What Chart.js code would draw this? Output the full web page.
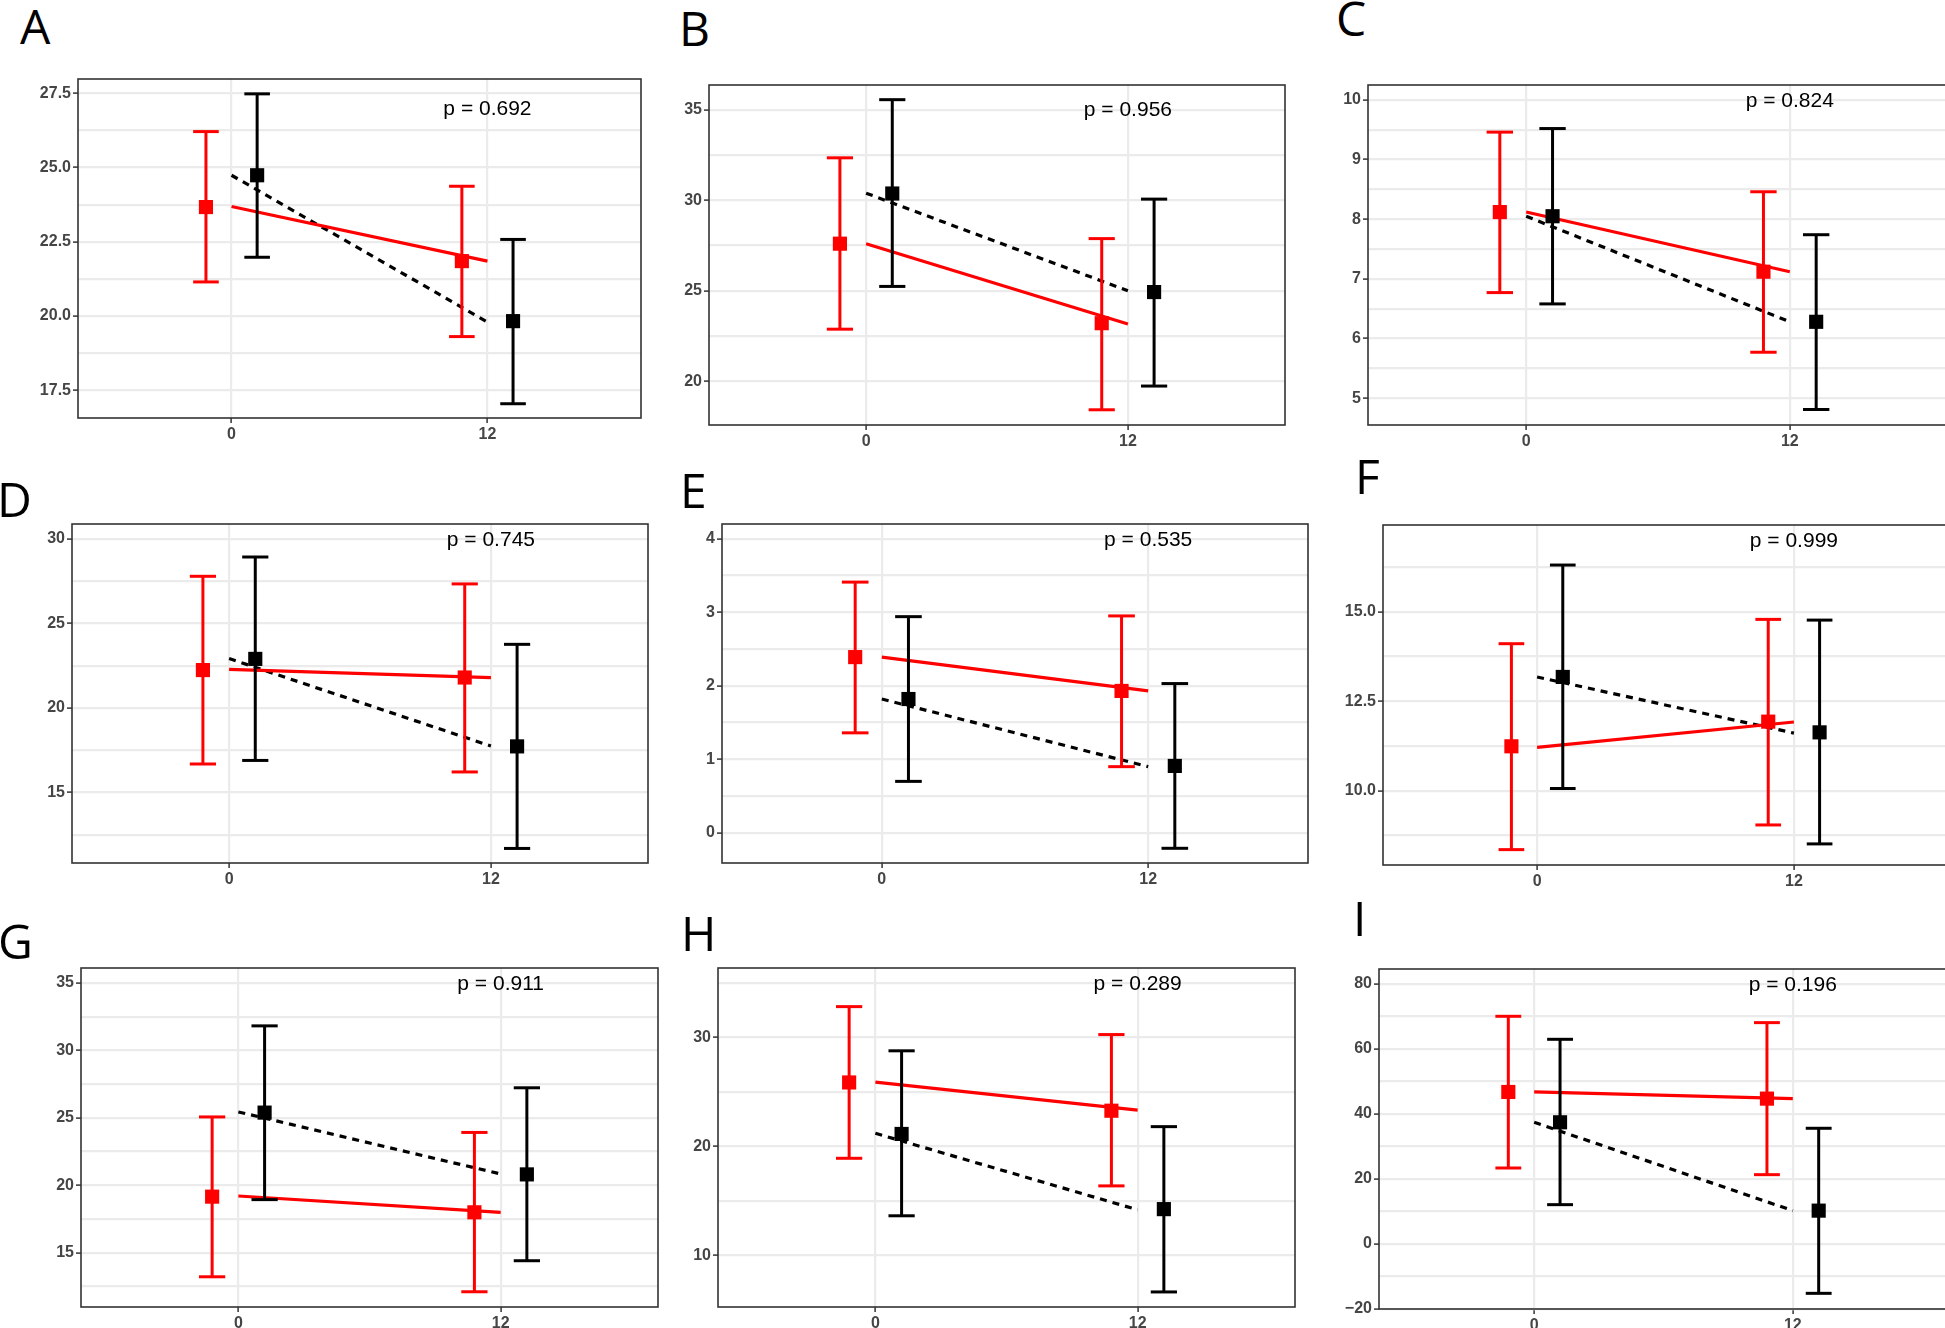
<!DOCTYPE html>
<html>
<head>
<meta charset="utf-8">
<script src="https://cdn.jsdelivr.net/npm/chart.js@4.4.0/dist/chart.umd.min.js"></script>
<style>
  html, body { margin: 0; padding: 0; background: #fff; overflow: hidden; }
  body { width: 1945px; height: 1328px; position: relative; }
  .panel { position: absolute; }
  .tag { position: absolute; font-family: 'Open Sans', 'Noto Sans', sans-serif; font-size: 48px; line-height: 48px; color: #000; }
</style>
</head>
<body>
<script>
// ---- data ----
const panelNames = ['A', 'B', 'C', 'D', 'E', 'F', 'G', 'H', 'I'];
const pValues = ['0.692', '0.956', '0.824', '0.745', '0.535', '0.999', '0.911', '0.289', '0.196'];
const pLabelY = [26.97, 34.95, 9.98, 29.92, 3.98, 16.97, 34.9, 34.85, 79.5];

const timePoints = [0, 12];
const xTickLabels = ['0', '12'];

const yTickLabels = [
    ['17.5', '20.0', '22.5', '25.0', '27.5'],
    ['20', '25', '30', '35'],
    ['5', '6', '7', '8', '9', '10'],
    ['15', '20', '25', '30'],
    ['0', '1', '2', '3', '4'],
    ['10.0', '12.5', '15.0'],
    ['15', '20', '25', '30', '35'],
    ['10', '20', '30'],
    ['\u221220', '0', '20', '40', '60', '80']
];
const yMin = [16.57, 17.59, 4.55, 10.84, -0.41, 7.92, 10.98, 5.27, -20];
const yMax = [27.98, 36.36, 10.25, 30.87, 4.2, 17.43, 36.11, 36.34, 84.6];

// red group: mean, lower, upper at month 0 and 12
const redMean = [[23.67, 21.85], [27.6, 23.21], [8.12, 7.12], [22.24, 21.8], [2.39, 1.93], [11.24, 11.93], [19.16, 18.0], [25.85, 23.26], [46.77, 44.72]];
const redLow  = [[21.15, 19.31], [22.88, 18.43], [6.77, 5.77], [16.69, 16.22], [1.36, 0.90], [8.35, 9.04], [13.22, 12.11], [18.9, 16.37], [23.38, 21.33]];
const redHigh = [[26.21, 24.37], [32.34, 27.88], [9.46, 8.46], [27.78, 27.33], [3.41, 2.95], [14.11, 14.79], [25.07, 23.92], [32.8, 30.24], [70.05, 68.1]];
// black group
const blackMean = [[24.74, 19.83], [30.37, 24.93], [8.05, 6.28], [22.9, 17.73], [1.82, 0.91], [13.18, 11.63], [25.39, 20.81], [21.13, 14.24], [37.44, 10.26]];
const blackLow  = [[21.98, 17.05], [25.24, 19.74], [6.58, 4.81], [16.9, 11.7], [0.70, -0.21], [10.06, 8.51], [18.94, 14.41], [13.63, 6.65], [12.1, -15.18]];
const blackHigh = [[27.48, 22.58], [35.55, 30.06], [9.52, 7.74], [28.92, 23.76], [2.94, 2.03], [16.31, 14.77], [31.82, 27.23], [28.75, 21.8], [62.97, 35.6]];
// fitted lines (value at month 0 and 12)
const redFit   = [[23.69, 21.85], [27.6, 23.17], [8.12, 7.12], [22.28, 21.79], [2.39, 1.93], [11.21, 11.92], [19.21, 18.0], [25.88, 23.32], [46.77, 44.72]];
const blackFit = [[24.74, 19.8], [30.39, 25.0], [8.05, 6.28], [22.92, 17.75], [1.82, 0.90], [13.18, 11.61], [25.44, 20.84], [21.19, 14.18], [37.44, 10.26]];

// ---- layout ----
const boxes = [
    [78, 79, 641, 418], [709, 85, 1285, 425], [1368, 85, 1948, 425],
    [72, 524, 648, 863], [722, 524, 1308, 863], [1383, 525, 1948, 865],
    [81, 968, 658, 1307], [718, 968, 1295, 1307], [1379, 969, 1948, 1309]
];
const tagPos = [[20, 2], [679, 4], [1336, -6], [-3, 475], [680, 466], [1355, 452], [-2, 917], [681, 909], [1353, 894]];

const Y_AXIS_W = 70, X_AXIS_H = 30, PAD = 10;
const X_MIN = -7.2, X_MAX = 19.2, DODGE = 1.2, CAP = 0.6;
const RED = '#ff0000', BLACK = '#000000', GRID = '#ebebeb';
const tickFont = { family: 'Liberation Sans', size: 16, weight: 'bold' };

const toNum = s => parseFloat(s.replace('\u2212', '-'));

const framePlugin = {
    id: 'frame',
    afterDraw(chart) {
        const { ctx, chartArea: a } = chart;
        ctx.save();
        ctx.strokeStyle = '#333333';
        ctx.lineWidth = 1.6;
        ctx.strokeRect(a.left, a.top, a.right - a.left, a.bottom - a.top);
        ctx.restore();
    }
};

const pLabelPlugin = {
    id: 'pLabel',
    afterDatasetsDraw(chart, args, opts) {
        const ctx = chart.ctx;
        ctx.save();
        ctx.font = '21px "Liberation Sans"';
        ctx.fillStyle = '#000';
        ctx.textAlign = 'center';
        ctx.textBaseline = 'middle';
        ctx.fillText(opts.text, chart.scales.x.getPixelForValue(opts.x), chart.scales.y.getPixelForValue(opts.y));
        ctx.restore();
    }
};

function seg(data, color, width, dash, order) {
    return {
        type: 'scatter', data: data, showLine: true,
        borderColor: color, backgroundColor: color, borderWidth: width,
        borderDash: dash || [], borderCapStyle: 'butt',
        pointRadius: 0, pointHoverRadius: 0, order: order
    };
}

function groupDatasets(color, offset, mean, low, high, fit, dash) {
    const sets = [];
    // fitted line
    sets.push(seg(timePoints.map((t, k) => ({ x: t, y: fit[k] })), color, 3.2, dash, 3));
    // error bars
    timePoints.forEach((t, k) => {
        const x = t + offset;
        sets.push(seg([{ x: x, y: low[k] }, { x: x, y: high[k] }], color, 3, null, 2));
        sets.push(seg([{ x: x - CAP, y: high[k] }, { x: x + CAP, y: high[k] }], color, 3, null, 2));
        sets.push(seg([{ x: x - CAP, y: low[k] }, { x: x + CAP, y: low[k] }], color, 3, null, 2));
    });
    // means
    sets.push({
        type: 'scatter',
        data: timePoints.map((t, k) => ({ x: t + offset, y: mean[k] })),
        pointStyle: 'rect', pointRadius: 10, pointHoverRadius: 10,
        backgroundColor: color, borderWidth: 0, order: 0
    });
    return sets;
}

function buildPanel(i) {
    const b = boxes[i];
    const w = b[2] - b[0] + Y_AXIS_W + PAD;
    const h = b[3] - b[1] + X_AXIS_H + PAD;

    const div = document.createElement('div');
    div.className = 'panel';
    div.style.left = (b[0] - Y_AXIS_W) + 'px';
    div.style.top = (b[1] - PAD) + 'px';
    div.style.width = w + 'px';
    div.style.height = h + 'px';
    const canvas = document.createElement('canvas');
    canvas.width = w;
    canvas.height = h;
    div.appendChild(canvas);
    document.body.appendChild(div);

    const tag = document.createElement('div');
    tag.className = 'tag';
    tag.textContent = panelNames[i];
    tag.style.left = tagPos[i][0] + 'px';
    tag.style.top = tagPos[i][1] + 'px';
    document.body.appendChild(tag);

    const majors = yTickLabels[i].map(toNum);
    const half = (majors[1] - majors[0]) / 2;
    const yVals = [];
    for (let v = majors[0] - half; v <= majors[majors.length - 1] + half + 1e-9; v += half) {
        if (v >= yMin[i] - 1e-9 && v <= yMax[i]) yVals.push(+v.toFixed(6));
    }
    const majorIndex = v => majors.findIndex(m => Math.abs(m - v) < 1e-6);

    const datasets = [].concat(
        groupDatasets(RED, -DODGE, redMean[i], redLow[i], redHigh[i], redFit[i], null),
        groupDatasets(BLACK, DODGE, blackMean[i], blackLow[i], blackHigh[i], blackFit[i], [7, 6])
    );

    new Chart(canvas.getContext('2d'), {
        type: 'scatter',
        data: { datasets: datasets },
        options: {
            responsive: false,
            animation: false,
            events: [],
            layout: { padding: { top: PAD, right: PAD, left: 0, bottom: 0 } },
            plugins: {
                legend: { display: false },
                tooltip: { enabled: false },
                pLabel: { text: 'p = ' + pValues[i], x: timePoints[1], y: pLabelY[i] }
            },
            scales: {
                x: {
                    type: 'linear', min: X_MIN, max: X_MAX,
                    afterBuildTicks: s => { s.ticks = timePoints.map(v => ({ value: v })); },
                    afterFit: s => { s.height = X_AXIS_H; s.paddingLeft = 0; s.paddingRight = 0; },
                    ticks: {
                        autoSkip: false, maxRotation: 0, padding: 2,
                        font: tickFont, color: '#454545',
                        callback: v => xTickLabels[timePoints.indexOf(v)]
                    },
                    grid: { color: GRID, lineWidth: 2.2, tickColor: '#333333', tickWidth: 1.5, tickLength: 5 },
                    border: { display: false }
                },
                y: {
                    type: 'linear', min: yMin[i], max: yMax[i], bounds: 'data',
                    afterBuildTicks: s => { s.ticks = yVals.map(v => ({ value: v })); },
                    afterFit: s => { s.width = Y_AXIS_W; s.paddingTop = 0; s.paddingBottom = 0; },
                    ticks: {
                        autoSkip: false, padding: 2,
                        font: tickFont, color: '#454545',
                        callback: v => {
                            const k = majorIndex(v);
                            return k >= 0 ? yTickLabels[i][k] : '';
                        }
                    },
                    grid: {
                        color: GRID, lineWidth: 2.2, tickWidth: 1.5, tickLength: 5,
                        tickColor: ctx => (ctx.tick && majorIndex(ctx.tick.value) >= 0) ? '#333333' : 'rgba(0,0,0,0)'
                    },
                    border: { display: false }
                }
            }
        },
        plugins: [framePlugin, pLabelPlugin]
    });
}

panelNames.forEach((name, i) => buildPanel(i));
</script>
</body>
</html>
